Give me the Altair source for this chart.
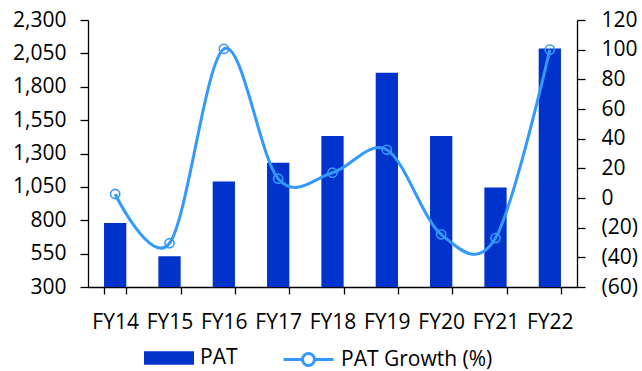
import altair as alt
import pandas as pd

# Profit after tax by fiscal year, with year-on-year growth
years = ["FY14", "FY15", "FY16", "FY17", "FY18", "FY19", "FY20", "FY21", "FY22"]
pat = [780, 530, 1090, 1230, 1432, 1904, 1432, 1046, 2087]
pat_growth = [2.7, -30.5, 100.5, 13.0, 17.0, 32.5, -24.5, -27.0, 100.0]

left_ticks = [300, 550, 800, 1050, 1300, 1550, 1800, 2050, 2300]
right_ticks = [-60, -40, -20, 0, 20, 40, 60, 80, 100, 120]

df = pd.DataFrame({"year": years, "pat": pat, "growth": pat_growth})

FONT = "Open Sans"
FS = 21
BAR_BLUE = "#0033CC"
LINE_BLUE = "#3399FF"

x_enc = alt.X(
    "year:N",
    sort=years,
    scale=alt.Scale(paddingInner=0.59, paddingOuter=0.295),
    axis=alt.Axis(
        title=None, labelAngle=0, tickBand="extent", tickSize=7,
        labelPadding=17, domainColor="#000000", tickColor="#000000",
        domainWidth=1.3, tickWidth=1.3, labelFontSize=FS,
    ),
)

bars = alt.Chart(df).mark_bar(color=BAR_BLUE, clip=True).encode(
    x=x_enc,
    y=alt.Y(
        "pat:Q",
        scale=alt.Scale(domain=[300, 2300], nice=False, zero=False),
        axis=alt.Axis(
            title=None, values=left_ticks, format=",.0f", orient="left",
            grid=False, tickSize=8, labelPadding=14, domainColor="#000000",
            tickColor="#000000", domainWidth=1.3, tickWidth=1.3,
            labelFontSize=FS,
        ),
    ),
    fill=alt.Fill(
        "s1:N",
        scale=alt.Scale(domain=["PAT"], range=[BAR_BLUE]),
        legend=alt.Legend(
            title=None, orient="none", legendX=56, legendY=313,
            symbolType="M-1,-0.27H1V0.27H-1Z", symbolSize=2500,
            symbolStrokeWidth=0, labelFontSize=FS, labelOffset=6,
        ),
    ),
).transform_calculate(s1="'PAT'")

growth = alt.Chart(df).mark_line(
    interpolate="cardinal", strokeWidth=3,
    point=alt.OverlayMarkDef(filled=False, fill="transparent", size=85, strokeWidth=1.6),
).encode(
    x=alt.X("year:N", sort=years),
    y=alt.Y(
        "growth:Q",
        scale=alt.Scale(domain=[-60, 120], nice=False),
        axis=alt.Axis(
            title=None, values=right_ticks, orient="right", grid=False,
            tickSize=8, labelPadding=16, domainColor="#000000",
            tickColor="#000000", domainWidth=1.3, tickWidth=1.3,
            labelFontSize=FS,
            labelExpr="datum.value < 0 ? '(' + abs(datum.value) + ')' : datum.value",
        ),
    ),
    stroke=alt.Stroke(
        "s2:N",
        scale=alt.Scale(domain=["PAT Growth (%)"], range=[LINE_BLUE]),
        legend=alt.Legend(
            title=None, orient="none", legendX=194, legendY=313,
            symbolType="M-1,0H-0.24M0.24,0H1M0.24,0A0.24,0.24 0 1,1 -0.24,0A0.24,0.24 0 1,1 0.24,0",
            symbolSize=2500, symbolStrokeWidth=3, symbolFillColor="#FFFFFF",
            labelFontSize=FS, labelOffset=6,
        ),
    ),
).transform_calculate(s2="'PAT Growth (%)'")

chart = (
    alt.layer(bars, growth)
    .resolve_scale(y="independent", fill="independent", stroke="independent")
    .properties(
        width=489, height=267,
        padding={"left": 88, "top": 20, "right": 65, "bottom": 84},
        autosize=alt.AutoSizeParams(type="none"),
    )
    .configure(font=FONT)
    .configure_view(stroke=None)
    .configure_axis(labelFont=FONT, labelColor="#000000")
    .configure_legend(labelFont=FONT, labelColor="#000000", padding=0)
)

chart.save("out.html", embed_options={"renderer": "svg", "actions": False})
